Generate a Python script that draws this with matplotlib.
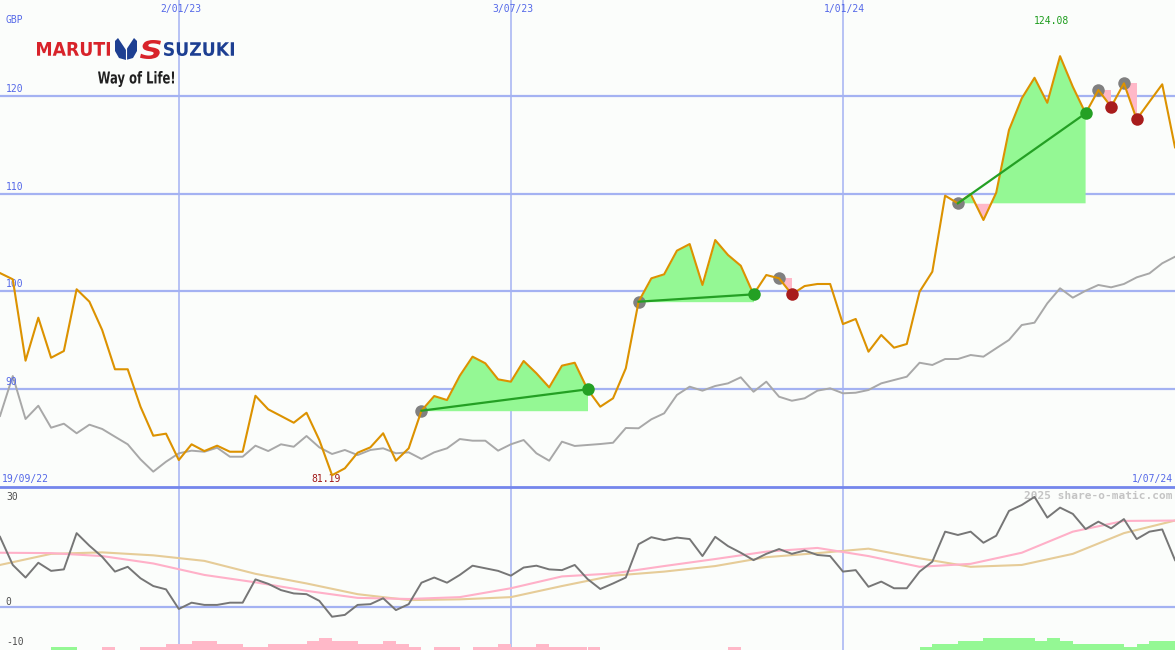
import matplotlib.pyplot as plt
import matplotlib.transforms as mtransforms
from matplotlib.patches import Polygon, PathPatch
from matplotlib.textpath import TextPath
from matplotlib.font_manager import FontProperties
import numpy as np

# weekly closes, GBP (19/09/22 .. 1/07/24)
price = [101.88, 101.24, 92.91, 97.31, 93.21, 93.90, 100.22, 98.95, 96.05, 92.03,
         92.03, 88.20, 85.23, 85.44, 82.74, 84.35, 83.66, 84.21, 83.59, 83.59,
         89.32, 87.93, 87.25, 86.56, 87.58, 84.79, 81.19, 81.89, 83.49, 84.04,
         85.48, 82.67, 83.94, 87.79, 89.29, 88.88, 91.37, 93.32, 92.64, 91.00,
         90.76, 92.88, 91.62, 90.18, 92.40, 92.70, 89.98, 88.20, 89.06, 92.13,
         98.95, 101.34, 101.75, 104.17, 104.85, 100.66, 105.26, 103.73, 102.63, 99.70,
         101.68, 101.34, 99.70, 100.55, 100.76, 100.76, 96.66, 97.18, 93.83, 95.54,
         94.24, 94.62, 99.97, 102.02, 109.80, 109.02, 109.97, 107.31, 110.10, 116.52,
         119.76, 121.87, 119.31, 124.08, 120.95, 118.23, 120.61, 118.90, 121.30, 117.62,
         119.42, 121.20, 114.75]

# comparison index (grey line)
bench = [87.25, 91.34, 86.94, 88.30, 86.05, 86.46, 85.48, 86.36, 85.92, 85.13,
         84.35, 82.81, 81.55, 82.57, 83.43, 83.70, 83.59, 84.00, 83.08, 83.08,
         84.21, 83.66, 84.35, 84.10, 85.20, 84.04, 83.36, 83.77, 83.25, 83.77,
         83.94, 83.43, 83.53, 82.85, 83.53, 83.94, 84.89, 84.72, 84.72, 83.70,
         84.35, 84.79, 83.43, 82.67, 84.62, 84.18, 84.28, 84.38, 84.51, 86.02,
         85.99, 86.91, 87.52, 89.40, 90.25, 89.84, 90.32, 90.59, 91.21, 89.73,
         90.76, 89.22, 88.81, 89.06, 89.84, 90.08, 89.57, 89.63, 89.91, 90.59,
         90.93, 91.27, 92.70, 92.47, 93.08, 93.08, 93.49, 93.32, 94.18, 95.03,
         96.56, 96.80, 98.78, 100.32, 99.36, 100.07, 100.66, 100.42, 100.76, 101.44,
         101.85, 102.88, 103.55]

# lower panel oscillator
osc = [19.1, 11.5, 8.1, 12.1, 9.9, 10.3, 20.1, 16.7, 13.7, 9.7,
       11.0, 7.9, 5.8, 4.9, -0.4, 1.3, 0.7, 0.7, 1.3, 1.3,
       7.6, 6.4, 4.7, 3.8, 3.6, 1.8, -2.5, -2.0, 0.7, 0.9,
       2.5, -0.7, 0.9, 6.7, 8.1, 6.7, 8.8, 11.3, 10.6, 9.9,
       8.6, 10.8, 11.3, 10.3, 10.1, 11.5, 7.7, 5.0, 6.5, 8.1,
       17.1, 19.0, 18.2, 18.9, 18.5, 13.9, 19.1, 16.6, 14.8, 12.8,
       14.5, 15.8, 14.5, 15.4, 14.2, 13.9, 9.7, 10.1, 5.6, 7.0,
       5.2, 5.2, 9.7, 12.4, 20.5, 19.6, 20.5, 17.5, 19.4, 26.1,
       27.7, 29.9, 24.3, 27.0, 25.3, 21.2, 23.2, 21.4, 23.9, 18.5,
       20.5, 21.1, 12.8]

ma_idx = list(range(0, 93, 4))
ma_pink = [14.8, 14.7, 13.9, 11.9, 8.8, 6.8, 4.5, 2.6, 2.3, 2.8, 5.2, 8.4,
           9.2, 11.2, 13.1, 15.1, 16.1, 13.9, 11.0, 11.8, 14.8, 20.5, 23.4, 23.5]
ma_tan = [11.5, 14.5, 14.9, 14.1, 12.6, 9.1, 6.5, 3.6, 2.0, 2.2, 2.8, 5.8,
          8.6, 9.7, 11.2, 13.6, 14.7, 15.9, 13.3, 11.0, 11.5, 14.5, 20.1, 23.5]

# strength bars along the bottom (+ green, - pink)
bars = [0, 0, 0, 0, 1, 1, 0, 0, -1, 0,
        0, -1, -1, -2, -2, -3, -3, -2, -2, -1,
        -1, -2, -2, -2, -3, -4, -3, -3, -2, -2,
        -3, -2, -1, 0, -1, -1, 0, -1, -1, -2,
        -1, -1, -2, -1, -1, -1, -1, 0, 0, 0,
        0, 0, 0, 0, 0, 0, 0, -1, 0, 0,
        0, 0, 0, 0, 0, 0, 0, 0, 0, 0,
        0, 0, 1, 2, 2, 3, 3, 4, 4, 4,
        4, 3, 4, 3, 2, 2, 2, 2, 1, 2,
        3, 3, 0]

buy_segments = [(33, 46), (50, 59), (75, 85)]
sell_segments = [(61, 62), (86, 87), (88, 89)]

date_idx = [14, 40, 66]
date_labels = ['2/01/23', '3/07/23', '1/01/24']
start_date = '19/09/22'
end_date = '1/07/24'
price_ticks = [120, 110, 100, 90]
osc_ticks = [30, 0, -10]

bg = '#fbfdfb'
grid_c = '#a4b2f2'
blue_txt = '#5468e8'
mono = 'DejaVu Sans Mono'

x = np.arange(len(price))
price = np.array(price)

fig = plt.figure(figsize=(11.75, 6.5), dpi=100, facecolor=bg)

ax = fig.add_axes([0, 163 / 650, 1, 487 / 650])
ax.set_xlim(0, 92)
ax.set_ylim(79.98, 129.83)
ax.axis('off')

ax2 = fig.add_axes([0, 0, 1, 162 / 650])
ax2.set_xlim(0, 92)
ax2.set_ylim(-11.49, 32.3)
ax2.axis('off')

ax3 = ax2.twinx()
ax3.set_ylim(0, 52.6)
ax3.axis('off')

# grid
for v in price_ticks:
    ax.axhline(v, color=grid_c, lw=1.6, zorder=1)
for d in date_idx:
    ax.axvline(d, color=grid_c, lw=1.1, zorder=1)
    ax2.axvline(d, color=grid_c, lw=1.1, zorder=1)
ax2.axhline(0, color=grid_c, lw=1.6, zorder=1)
fig.add_artist(plt.Line2D([0, 1], [163 / 650, 163 / 650], color='#7486ec', lw=2))

# signal fills
for s, e in buy_segments:
    xs = x[s:e + 1]
    ps = price[s:e + 1]
    base = price[s]
    ax.fill_between(xs, base, ps, where=ps >= base, interpolate=True,
                    color='#94f894', lw=0, zorder=2)
    ax.fill_between(xs, base, ps, where=ps < base, interpolate=True,
                    color='#ffb8c8', lw=0, zorder=2)
for s, e in sell_segments:
    xs = x[s:e + 1]
    ps = price[s:e + 1]
    ax.fill_between(xs, price[s], ps, where=ps < price[s], interpolate=True,
                    color='#ffb8c8', lw=0, zorder=2)

ax.plot(x, bench, color='#a8a8a8', lw=1.4, zorder=3)

for s, e in buy_segments + sell_segments:
    ax.plot(x[s], price[s], 'o', color='#808080', ms=9, mec='none', zorder=4)

ax.plot(x, price, color='#dc9200', lw=1.5, zorder=5)

for s, e in buy_segments:
    ax.plot([x[s], x[e]], [price[s], price[e]], color='#24a024', lw=1.6, zorder=6)
    ax.plot(x[e], price[e], 'o', color='#24a024', ms=9, mec='none', zorder=7)
for s, e in sell_segments:
    ax.plot(x[e], price[e], 'o', color='#a81c1c', ms=9, mec='none', zorder=7)

# lower panel
ax2.plot(ma_idx, ma_tan, color='#e6cc98', lw=1.5, zorder=3)
ax2.plot(ma_idx, ma_pink, color='#ffb0c8', lw=1.5, zorder=3)
ax2.plot(x, osc, color='#767676', lw=1.4, zorder=4)

bars = np.array(bars)
ax3.bar(x + 0.5, np.abs(bars), width=1.0,
        color=np.where(bars > 0, '#94f894', '#ffb8c8'), lw=0)

# labels
ytr = mtransforms.blended_transform_factory(ax.transAxes, ax.transData)
for v in price_ticks:
    ax.text(0.005, v + 0.2, str(v), transform=ytr, fontsize=7, family=mono,
            color=blue_txt, va='bottom', ha='left')
ax.text(0.005, 0.958, 'GBP', transform=ax.transAxes, fontsize=7, family=mono,
        color=blue_txt, va='center', ha='left')
xtr = mtransforms.blended_transform_factory(ax.transData, ax.transAxes)
for d, lab in zip(date_idx, date_labels):
    ax.text(d + 0.15, 0.982, lab, transform=xtr, fontsize=7, family=mono,
            color=blue_txt, va='center', ha='center')
ax.text(0.002, 0.017, start_date, transform=ax.transAxes, fontsize=7,
        family=mono, color=blue_txt, va='center', ha='left')
ax.text(0.998, 0.017, end_date, transform=ax.transAxes, fontsize=7,
        family=mono, color=blue_txt, va='center', ha='right')

lo = int(np.argmin(price))
hi = int(np.argmax(price))
ax.text(lo - 0.5, 0.017, f'{price[lo]:.2f}', transform=xtr, fontsize=7,
        family=mono, color='#a01818', va='center', ha='center')
ax.text(hi - 0.7, 0.956, f'{price[hi]:.2f}', transform=xtr, fontsize=7,
        family=mono, color='#1c9c1c', va='center', ha='center')

ytr2 = mtransforms.blended_transform_factory(ax2.transAxes, ax2.transData)
for v, dy in zip(osc_ticks, [0.0, 1.4, 0.7]):
    ax2.text(0.005, v + dy, str(v), transform=ytr2, fontsize=7, family=mono,
             color='#505050', va='center', ha='left')
ax2.text(0.998, 0.95, '2025 share-o-matic.com', transform=ax2.transAxes,
         fontsize=8, family=mono, weight='bold', color='#c4c4c4',
         va='center', ha='right')

# logo, drawn in pixel coordinates
lax = fig.add_axes([0, 0, 1, 1])
lax.set_xlim(0, 1175)
lax.set_ylim(650, 0)
lax.axis('off')


def boxed_text(s, x0, y0, x1, y1, color, style='normal'):
    tp = TextPath((0, 0), s, size=20,
                  prop=FontProperties(family='DejaVu Sans', weight='bold', style=style))
    ext = tp.get_extents()
    tr = (mtransforms.Affine2D().translate(-ext.x0, -ext.y0)
          .scale((x1 - x0) / ext.width, -(y1 - y0) / ext.height)
          .translate(x0, y1) + lax.transData)
    lax.add_patch(PathPatch(tp, transform=tr, color=color, lw=0))


boxed_text('MARUTI', 37, 42, 110, 56, '#d8232a')
lax.add_patch(Polygon([[115, 41], [118, 38], [126, 50], [126, 60], [119, 58], [115, 51]],
                      closed=True, color='#1d3f92', lw=0))
lax.add_patch(Polygon([[137, 41], [134, 38], [126, 50], [126, 60], [133, 58], [137, 51]],
                      closed=True, color='#1d3f92', lw=0))
lax.plot([126, 126], [46, 61], color='white', lw=0.8)
boxed_text('S', 140, 40, 161, 59, '#d8232a', style='italic')
boxed_text('SUZUKI', 164, 42, 234, 56, '#1d3f92')
boxed_text('Way of Life!', 98, 71, 174, 87, '#202020')

fig.savefig('out.png', dpi=100, facecolor=bg)
